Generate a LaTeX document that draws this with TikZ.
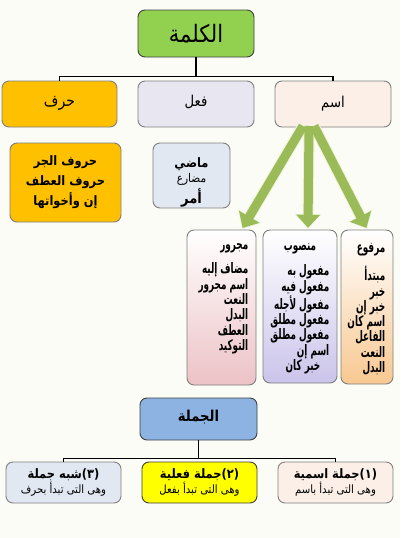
\documentclass[tikz,border=0pt]{standalone}
\usepackage{fontspec}
\usetikzlibrary{arrows.meta,shadings,calc}
\TeXXeTstate=1
\newfontfamily\arabicfont[Script=Arabic,FakeStretch=0.88]{DejaVu Sans}
\newfontfamily\arabicnarrow[Script=Arabic,FakeStretch=0.61]{DejaVu Sans}
\newcommand\artxt[1]{{\arabicfont\beginR #1\endR}}
\newcommand\arnar[1]{{\arabicnarrow\beginR #1\endR}}
\definecolor{bgcol}{HTML}{FBFCF6}
\definecolor{kgreen}{HTML}{92D050}
\definecolor{korange}{HTML}{FFC000}
\definecolor{klav}{HTML}{E8E6F0}
\definecolor{kpeach}{HTML}{FBEFE8}
\definecolor{kblue}{HTML}{E2E8F2}
\definecolor{kpink}{HTML}{ECC2C6}
\definecolor{kpurp}{HTML}{CBC4EA}
\definecolor{kapri}{HTML}{F8C891}
\definecolor{jblue}{HTML}{8DB3E2}
\definecolor{kyellow}{HTML}{FFFF00}
\definecolor{agreen}{HTML}{9BBB59}
\definecolor{aedge}{HTML}{EEF3D8}
\definecolor{bordercol}{HTML}{7F7F7F}
\tikzset{
  box/.style={draw=bordercol, line width=0.9pt, rounded corners=7pt, inner sep=0pt},
  darkbox/.style={draw=black!75, line width=0.9pt, rounded corners=7pt, inner sep=0pt},
  conn/.style={draw=black, line width=1.4pt},
  garrowbg/.style={draw=aedge, line width=11pt, -{Triangle[length=15pt,width=26pt]}},
  garrow/.style={draw=agreen, line width=9pt, -{Triangle[length=13pt,width=23pt]}},
  coltext/.style={anchor=north east, align=right, inner sep=0pt,
     font=\bfseries\fontsize{14.5}{15.3}\selectfont},
}
\begin{document}
\begin{tikzpicture}[x=1pt,y=-1pt]
\useasboundingbox (0,0) rectangle (400,538);
\fill[bgcol] (0,0) rectangle (400,538);

% top level
\node[darkbox, fill=kgreen, minimum width=116pt, minimum height=47pt] (kalima) at (196,33.5)
  {\fontsize{24}{28}\selectfont\artxt{الكلمة}};
\node[box, fill=korange, minimum width=115pt, minimum height=46pt] (harf) at (59.5,104)
  {\raisebox{6pt}{\fontsize{16}{18}\selectfont\artxt{حرف}}};
\node[box, fill=klav, minimum width=116pt, minimum height=46pt] (fil) at (196,104)
  {\raisebox{6pt}{\fontsize{15}{17}\selectfont\artxt{فعل}}};
\node[box, fill=kpeach, minimum width=116pt, minimum height=46pt] (ism) at (333,104)
  {\raisebox{4pt}{\fontsize{15}{17}\selectfont\artxt{اسم}}};

\coordinate (j1) at ([yshift=-19pt]kalima.south);
\draw[conn] (kalima.south) -- (j1);
\draw[conn] (harf.north) |- (j1) -| (ism.north);

% detail boxes
\node[box, fill=korange, minimum width=111pt, minimum height=79pt, align=center,
  font=\bfseries\fontsize{13}{20}\selectfont] (harfd) at (65.5,182.5)
  {\artxt{حروف الجر}\\\artxt{حروف العطف}\\\artxt{إن وأخواتها}};
\node[box, fill=kblue, minimum width=77pt, minimum height=65pt] (fild) at (191.5,175.5) {};
\node[align=center, inner sep=0pt] (fildt) at (191.5,182)
  {{\bfseries\fontsize{13}{18}\selectfont\artxt{ماضي}}\\[2pt]
   {\fontsize{12}{18}\selectfont\artxt{مضارع}}\\[2pt]
   {\bfseries\fontsize{15}{19}\selectfont\artxt{أمر}}};

% columns
\node[box, top color=white, bottom color=kpink, minimum width=69pt, minimum height=155pt] (majrur) at (221.5,307.5) {};
\node[box, top color=white, bottom color=kpurp, minimum width=74pt, minimum height=153pt] (mansub) at (300,306.5) {};
\node[box, top color=white, bottom color=kapri, minimum width=52pt, minimum height=154pt] (marfu) at (367,307) {};

\node[coltext] (majrurt) at ([xshift=-8pt,yshift=-14pt]majrur.north east)
  {\arnar{مجرور}\\[9pt]\arnar{مضاف إليه}\\\arnar{اسم مجرور}\\\arnar{النعت}\\\arnar{البدل}\\\arnar{العطف}\\\arnar{التوكيد}};
\node[coltext, anchor=north] (mansubh) at ([yshift=-14pt]mansub.north) {\arnar{منصوب}};
\node[coltext] (mansubt) at ([xshift=-8pt,yshift=-35pt]mansub.north east)
  {\arnar{مفعول به}\\\arnar{مفعول فيه}\\\arnar{مفعول لأجله}\\\arnar{مفعول مطلق}\\\arnar{مفعول مطلق}\\\arnar{اسم إن}\hspace*{9pt}\\\arnar{خبر كان}\hspace*{9pt}};
\node[coltext] (marfut) at ([xshift=-8pt,yshift=-14pt]marfu.north east)
  {\arnar{مرفوع}\\[9pt]\arnar{مبتدأ}\\\arnar{خبر}\\\arnar{خبر إن}\\\arnar{اسم كان}\\\arnar{الفاعل}\\\arnar{النعت}\\\arnar{البدل}};

% green arrows
\coordinate (s1) at (303,126);
\coordinate (s2) at (309,126);
\coordinate (s3) at (314,126);
\coordinate (e1) at (242,229);
\coordinate (e2) at (308,229);
\coordinate (e3) at (367,229);
\foreach \s/\e in {s1/e1,s2/e2,s3/e3}{
  \draw[garrowbg] (\s) -- (\e);
}
\foreach \s/\e in {s1/e1,s2/e2,s3/e3}{
  \draw[garrow] (\s) -- ($(\e)!1.2pt!(\s)$);
}

% sentence part
\node[darkbox, fill=jblue, minimum width=117pt, minimum height=42pt] (jumla) at (198.5,419)
  {\raisebox{6pt}{\bfseries\fontsize{15}{17}\selectfont\artxt{الجملة}}};
\node[box, fill=kblue, minimum width=115pt, minimum height=41pt, align=center] (b3) at (63.5,482.5)
  {{\bfseries\fontsize{13}{15}\selectfont\artxt{(٣)شبه جملة}}\\[0pt]{\fontsize{11.5}{14}\selectfont\artxt{وهى التى تبدأ بحرف}}};
\node[darkbox, fill=kyellow, minimum width=115pt, minimum height=41pt, align=center] (b2) at (199.5,482.5)
  {{\bfseries\fontsize{13}{15}\selectfont\artxt{(٢)جملة فعلية}}\\[0pt]{\fontsize{11.5}{14}\selectfont\artxt{وهى التى تبدأ بفعل}}};
\node[box, fill=kpeach, minimum width=115pt, minimum height=41pt, align=center] (b1) at (335.5,482.5)
  {{\bfseries\fontsize{13}{15}\selectfont\artxt{(١)جملة اسمية}}\\[0pt]{\fontsize{11.5}{14}\selectfont\artxt{وهى التى تبدأ باسم}}};

\coordinate (j2) at ([yshift=-18pt]jumla.south);
\draw[conn] (jumla.south) -- (j2);
\draw[conn] (b3.north) |- (j2) -| (b1.north);
\end{tikzpicture}
\end{document}
